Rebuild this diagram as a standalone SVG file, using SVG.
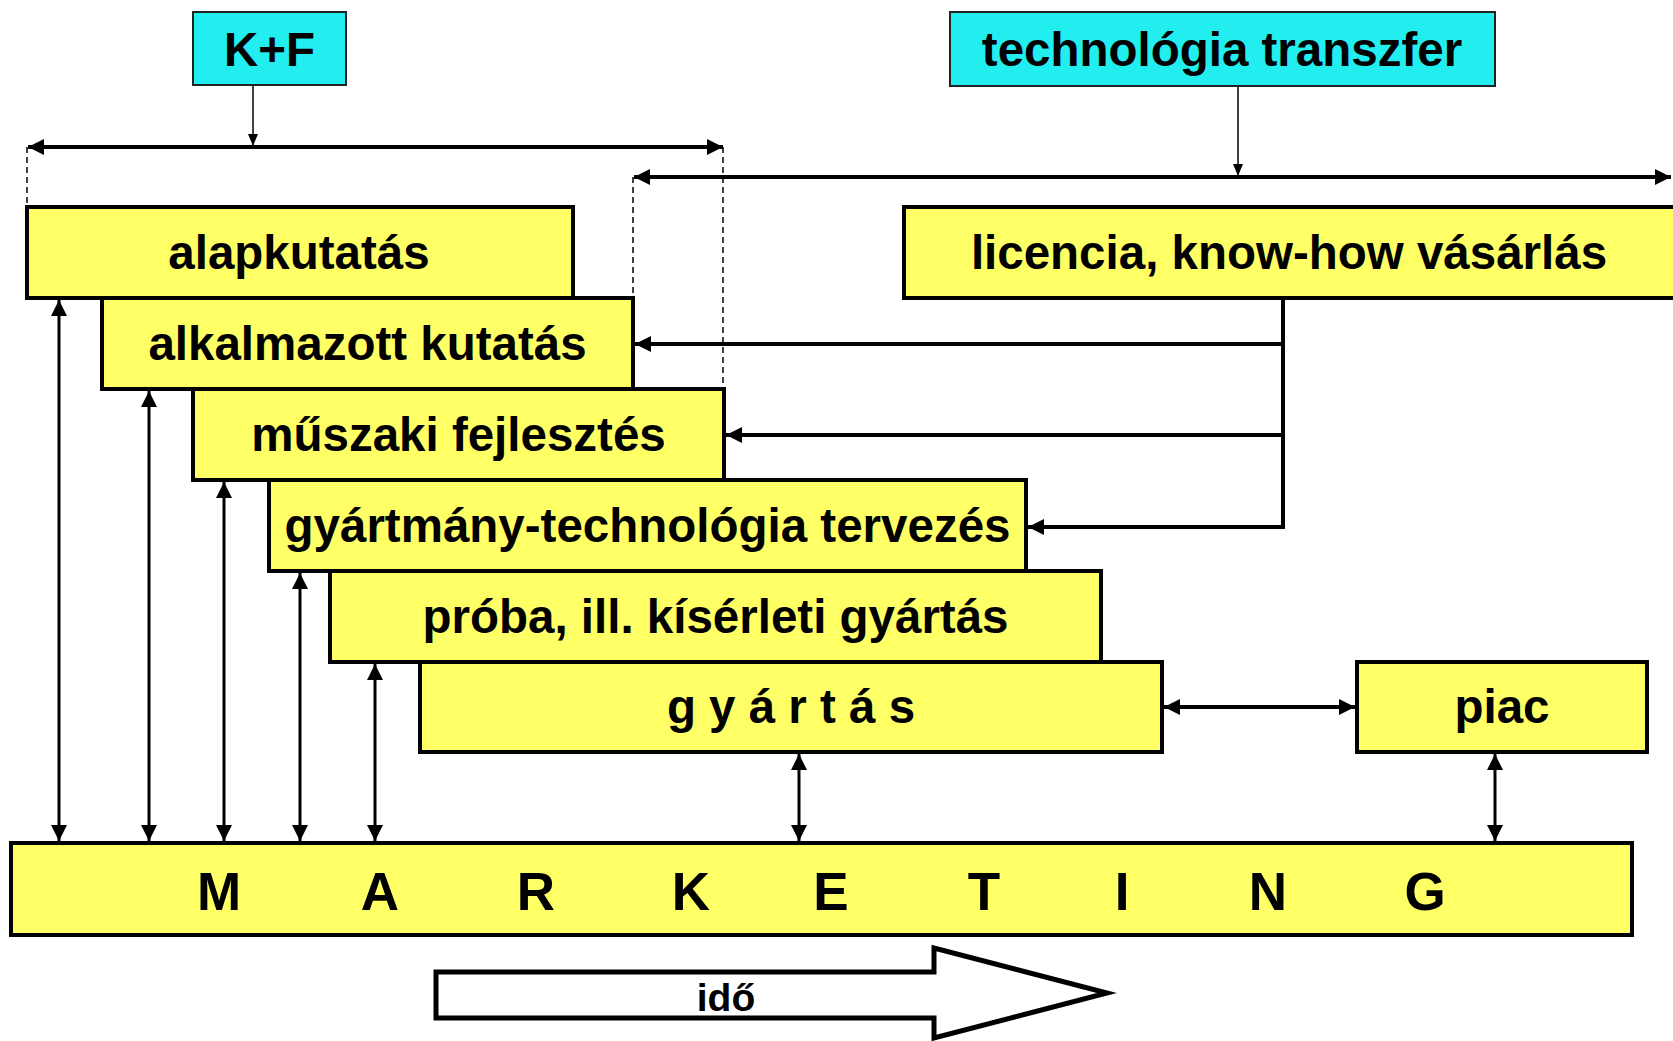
<svg xmlns="http://www.w3.org/2000/svg" width="1673" height="1041" viewBox="0 0 1673 1041">
<defs>
<style>
.box{fill:#FFFF66;stroke:#000;stroke-width:4}
.cyan{fill:#22EEF0;stroke:#222;stroke-width:2}
.lbl{font-family:"Liberation Sans",Arial,sans-serif;font-weight:bold;font-size:47.5px;fill:#000;text-anchor:middle}
.mk{font-family:"Liberation Sans",Arial,sans-serif;font-weight:bold;font-size:53px;fill:#000;text-anchor:middle}
.thick{fill:none;stroke:#000;stroke-width:4}
.mid{fill:none;stroke:#000;stroke-width:3}
.thin{fill:none;stroke:#000;stroke-width:1.5}
.dash{fill:none;stroke:#000;stroke-width:1.5;stroke-dasharray:6 4}
</style>
<marker id="ah" viewBox="0 0 16 16" refX="16" refY="8" markerWidth="16" markerHeight="16" markerUnits="userSpaceOnUse" orient="auto-start-reverse">
<path d="M0,0 L16,8 L0,16 z" fill="#000"/>
</marker>
<marker id="ahs" viewBox="0 0 12 10" refX="12" refY="5" markerWidth="12" markerHeight="10" markerUnits="userSpaceOnUse" orient="auto-start-reverse">
<path d="M0,0 L12,5 L0,10 z" fill="#000"/>
</marker>
</defs>
<rect width="1673" height="1041" fill="#fff"/>

<g id="connectors">
<line class="thin" x1="253" y1="85" x2="253" y2="146" marker-end="url(#ahs)"/>
<line class="thin" x1="1238" y1="86" x2="1238" y2="176" marker-end="url(#ahs)"/>
<line class="thick" x1="28" y1="147" x2="723" y2="147" marker-start="url(#ah)" marker-end="url(#ah)"/>
<line class="thick" x1="634" y1="177" x2="1671" y2="177" marker-start="url(#ah)" marker-end="url(#ah)"/>
<line class="dash" x1="27" y1="147" x2="27" y2="207"/>
<line class="dash" x1="723" y1="147" x2="723" y2="389"/>
<line class="dash" x1="633" y1="177" x2="633" y2="298"/>
<path class="thick" d="M1283,298 V527 H1028" marker-end="url(#ah)"/>
<line class="thick" x1="1283" y1="344" x2="635" y2="344" marker-end="url(#ah)"/>
<line class="thick" x1="1283" y1="435" x2="726" y2="435" marker-end="url(#ah)"/>
<line class="mid" x1="59" y1="300" x2="59" y2="841" marker-start="url(#ah)" marker-end="url(#ah)"/>
<line class="mid" x1="149" y1="391" x2="149" y2="841" marker-start="url(#ah)" marker-end="url(#ah)"/>
<line class="mid" x1="224" y1="482" x2="224" y2="841" marker-start="url(#ah)" marker-end="url(#ah)"/>
<line class="mid" x1="300" y1="573" x2="300" y2="841" marker-start="url(#ah)" marker-end="url(#ah)"/>
<line class="mid" x1="375" y1="664" x2="375" y2="841" marker-start="url(#ah)" marker-end="url(#ah)"/>
<line class="mid" x1="799" y1="754" x2="799" y2="841" marker-start="url(#ah)" marker-end="url(#ah)"/>
<line class="mid" x1="1495" y1="754" x2="1495" y2="841" marker-start="url(#ah)" marker-end="url(#ah)"/>
<line class="thick" x1="1164" y1="707" x2="1355" y2="707" marker-start="url(#ah)" marker-end="url(#ah)"/>
</g>

<g id="kf">
<rect class="cyan" x="193" y="12" width="153" height="73"/>
<text class="lbl" x="269.5" y="66">K+F</text>
</g>
<g id="techtransfer">
<rect class="cyan" x="950" y="12" width="545" height="74"/>
<text class="lbl" x="1222" y="66">technológia transzfer</text>
</g>

<g id="alapkutatas">
<rect class="box" x="27" y="207" width="546" height="91"/>
<text class="lbl" x="299" y="269">alapkutatás</text>
</g>
<g id="licencia">
<rect class="box" x="904" y="207" width="775" height="91"/>
<text class="lbl" x="1289" y="269">licencia, know-how vásárlás</text>
</g>
<g id="alkalmazott">
<rect class="box" x="102" y="298" width="531" height="91"/>
<text class="lbl" x="367.5" y="360">alkalmazott kutatás</text>
</g>
<g id="muszaki">
<rect class="box" x="193" y="389" width="531" height="91"/>
<text class="lbl" x="458.5" y="451">műszaki fejlesztés</text>
</g>
<g id="gyartmany">
<rect class="box" x="269" y="480" width="757" height="91"/>
<text class="lbl" x="647.5" y="542">gyártmány-technológia tervezés</text>
</g>
<g id="proba">
<rect class="box" x="330" y="571" width="771" height="91"/>
<text class="lbl" x="715.5" y="633">próba, ill. kísérleti gyártás</text>
</g>
<g id="gyartas">
<rect class="box" x="420" y="662" width="742" height="90"/>
<text class="lbl" x="791" y="723">g y á r t á s</text>
</g>
<g id="piac">
<rect class="box" x="1357" y="662" width="290" height="90"/>
<text class="lbl" x="1502" y="723">piac</text>
</g>

<g id="marketing">
<rect class="box" x="11" y="843" width="1621" height="92"/>
<text class="mk" y="910"><tspan x="219">M</tspan><tspan x="380">A</tspan><tspan x="536">R</tspan><tspan x="691">K</tspan><tspan x="831">E</tspan><tspan x="984">T</tspan><tspan x="1122">I</tspan><tspan x="1268">N</tspan><tspan x="1425">G</tspan></text>
</g>

<g id="ido">
<path d="M436,972 H934 V948 L1107,993 L934,1038 V1018 H436 Z" fill="#fff" stroke="#000" stroke-width="5" stroke-linejoin="miter"/>
<text class="lbl" x="726" y="1011" style="font-size:39px">idő</text>
</g>
</svg>
